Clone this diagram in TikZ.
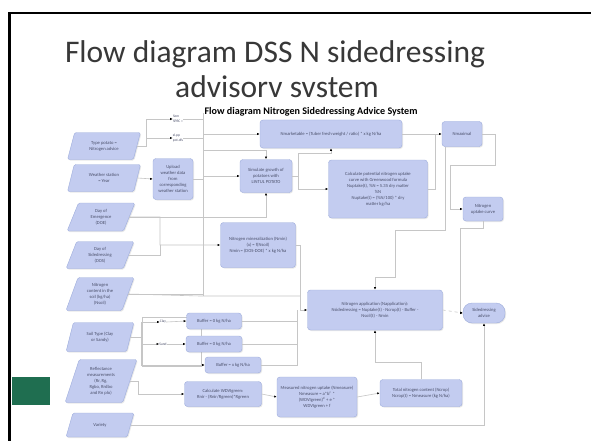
\documentclass[tikz,border=0pt]{standalone}
\usepackage{fontspec}
\setmainfont{Carlito}
\usetikzlibrary{shapes.geometric,arrows.meta,shadows}
\definecolor{boxfill}{HTML}{C3CCF0}
\definecolor{boxline}{HTML}{9EADDC}
\definecolor{boxtext}{HTML}{4A4F6A}
\definecolor{wirec}{HTML}{C6C6C6}
\definecolor{titlegray}{HTML}{383838}
\definecolor{slidegreen}{HTML}{1F6E50}
\newcommand\boxfont{\fontsize{4.6}{6}\selectfont}
\newcommand\notefont{\fontsize{3.6}{4.6}\selectfont}
\newcommand\bigtitlefont{\fontsize{31.5}{36}\selectfont}
\newcommand\subtitlefont{\fontsize{10.1}{11}\selectfont\bfseries}
\begin{document}
\begin{tikzpicture}[x=1pt,y=-1pt,
  every node/.style={inner sep=1pt, text=boxtext, font=\boxfont},
  shade/.style={drop shadow={opacity=0.18, shadow xshift=1pt, shadow yshift=-1pt}},
  data/.style={trapezium, trapezium left angle=72, trapezium right angle=108,
    trapezium stretches=true, draw=boxline, fill=boxfill, line width=0.4pt,
    rounded corners=1.5pt, align=center, minimum width=68pt, shade},
  proc/.style={rectangle, rounded corners=3pt, draw=boxline, fill=boxfill,
    line width=0.4pt, align=center, shade},
  term/.style={proc, rounded corners=9pt},
  wire/.style={draw=wirec, line width=0.6pt},
  arr/.style={wire, -{Latex[length=2.6pt,width=2.2pt,color=black]}},
  note/.style={font=\notefont, text=boxtext, inner sep=0pt, align=left}
]
\useasboundingbox (0,0) rectangle (591,441);
\fill[white] (0,0) rectangle (591,441);

% slide frame
\coordinate (fa) at (9.5,441);
\coordinate (fb) at (9.5,13);
\coordinate (fc) at (591,13);
\draw[black, line width=2.2pt] (fa) -- (fb) -- (fc);
\fill[slidegreen] (12,377) rectangle (50,405);

% titles
\node[font=\bigtitlefont, text=titlegray, anchor=base, inner sep=0pt] (t1) at (275,63) {Flow diagram DSS N sidedressing};
\node[font=\bigtitlefont, text=titlegray, anchor=base, inner sep=0pt] (t2) at (277,98) {advisorv svstem};
\node[font=\subtitlefont, text=black, anchor=base, inner sep=0pt] (t3) at (311,114) {Flow diagram Nitrogen Sidedressing Advice System};

% input data (parallelograms)
\node[data, minimum width=73pt, minimum height=27pt] (tp) at (104,146) {Type potato =\\Nitrogen advice};
\node[data, minimum width=73pt, minimum height=27pt] (ws) at (104,178) {Weather station\\= Year};
\node[data, minimum height=28pt] (doe) at (101,217) {Day of\\Emergence\\(DOE)};
\node[data, minimum height=27pt] (dos) at (100,255) {Day of\\Sidedressing\\(DOS)};
\node[data, minimum height=33pt] (nsoil) at (100,294) {Nitrogen\\content in the\\soil (kg/ha)\\(Nsoil)};
\node[data, minimum height=29pt] (soil) at (100,337) {Soil Type (Clay\\or Sandy)};
\node[data, minimum width=72pt, minimum height=43pt] (refl) at (101,381) {Reflectance\\measurements\\(Rr, Rg,\\Rgbo, Rrdbo\\and Rn plo)};
\node[data, minimum height=24pt] (var) at (100,425) {Variety};

% small notes near type potato
\node[note] (sm1) at (178,119) {Sem\\SPRC =};
\node[note] (sm2) at (178,138) {xl.pp\\pot.dfs};

% processes
\node[proc, minimum width=40pt, minimum height=41pt] (upl) at (173,179) {Upload\\weather data\\from\\corresponding\\weather station};
\node[proc, minimum width=142pt, minimum height=28pt] (mkt) at (331,134) {Nmarketable = (Tuber fresh weight / ratio) * x kg N/ha};
\node[proc, minimum width=52pt, minimum height=33pt] (sim) at (266,176) {Simulate growth of\\potatoes with\\LINTUL POTATO};
\node[proc, minimum width=99pt, minimum height=58pt] (calc) at (378,189) {Calculate potential nitrogen uptake\\curve with Greenwood formula\\Nuptake(t), \%N = 5.35 dry matter\\\%N\\Nuptake(t) = (\%N/100) * dry\\matter kg/ha};
\node[proc, minimum width=40pt, minimum height=25pt] (nmax) at (462,134) {Nmaximal};
\node[proc, minimum width=40pt, minimum height=24pt] (upt) at (483,209) {Nitrogen\\uptake curve};
\node[proc, minimum width=75pt, minimum height=45pt] (nmin) at (258,245) {Nitrogen mineralization (Nmin)\\(x) = f(Nsoil)\\Nmin = (DOS-DOE) * x kg N/ha};
\node[proc, minimum width=135pt, minimum height=40pt] (napp) at (375,310) {Nitrogen application (Napplication):\\Nsidedressing = Nuptake(t) - Ncrop(t) - Buffer -\\Nsoil(t) - Nmin};
\node[term, minimum width=42pt, minimum height=20pt] (adv) at (484,313) {Sidedressing\\advice};

% soil type branches
\node[note] (clay) at (163,322) {Clay};
\node[note] (sand) at (163,344) {Sand};
\draw[wirec, line width=0.4pt] (142,317) rectangle (201,366);
\node[proc, minimum width=55pt, minimum height=16pt] (b1) at (214,321) {Buffer = 0 kg N/ha};
\node[proc, minimum width=56pt, minimum height=16pt] (b2) at (214,344) {Buffer = 0 kg N/ha};
\node[proc, minimum width=56pt, minimum height=16pt] (b3) at (233,365) {Buffer = x kg N/ha};

% reflectance chain
\node[proc, minimum width=77pt, minimum height=25pt] (wdvi) at (223,394) {Calculate WDVIgreen:\\Rnir - (Rnir/Rgreen)*Rgreen};
\node[proc, minimum width=80pt, minimum height=40pt] (meas) at (317,397) {Measured nitrogen uptake (Nmeasure)\\Nmeasure = a*b\textsuperscript{c} *\\(WDVIgreen)\textsuperscript{d} + e *\\WDVIgreen + f};
\node[proc, minimum width=82pt, minimum height=27pt] (totn) at (421,393) {Total nitrogen content (Ncrop)\\Ncrop(t) = Nmeasure (kg N/ha)};

% bus coordinates
\coordinate (bt) at (203,113);
\coordinate (bb) at (203,296);
\coordinate (bx) at (297,310);
\coordinate (jn) at (435,134);

% connectors
\draw[wire] (bt) -- (bb);
\draw[arr] (tp.east) -- ++(9,0) |- (sm1.west);
\draw[arr] (tp.east) -- ++(9,0) |- (sm2.west);
\draw[wire] (sm1.east) -- (sm1.east -| bt);
\draw[wire] (sm2.east) -- (sm2.east -| bt);
\draw[arr] (ws.east) -- (upl.west);
\draw[wire] (upl.east) -- (upl.east -| bt);
\draw[arr] (mkt.west -| bt) -- (mkt.west);
\draw[arr] (203,150) -| (sim.north);
\draw[arr] (sim.west -| bt) -- (sim.west);
\draw[arr] (sim.east) -- ++(6,0) |- ([yshift=-5pt]mkt.south) -- (mkt.south);
\draw[arr] (sim.east) -- ++(6,0) |- (calc.west);
\draw[arr] (doe.east) -| (sim.south);
\draw[arr] (doe.east) -- (160,217) |- (nmin.west);
\draw[wire] (dos.east) -| (160,245);
\draw[wire] (nsoil.east) -- (nsoil.east -| bb);
\draw[arr] (mkt.east) -- (nmax.west);
\draw[wire] (calc.east) -| (jn);
\draw[arr] (nmax.east) -- (495,134) -- (495,165) -- (450,165) |- (upt.west);
\draw[arr] ([xshift=-17pt]nmax.south) -- (445,230) -- (395,230) -- (395,277) -| (napp.north);
\draw[arr] (upt.south) -- (483,228) -- (460,228) |- (adv.west);
\draw[arr, dashed] (napp.east) -- (adv.west);
\draw[arr] (var.east) -| (adv.south);
\draw[arr] (nmin.east) -- (300,245) |- (napp.west);
\draw[wire] (nsoil.east) -- (200,296) -- (243,296) -- (300,296);
\draw[arr] (soil.east) -- ++(11,0) |- (clay.west);
\draw[arr] (soil.east) -- ++(11,0) |- (sand.west);
\draw[arr] (clay.east) -- (b1.west);
\draw[arr] (sand.east) -- (b2.west);
\draw[arr] (soil.east) -- ++(11,0) |- (b3.west);
\draw[wire] (b1.east) -- (b1.east -| bx);
\draw[wire] (b2.east) -- (b2.east -| bx);
\draw[wire] (b3.east) -- (b3.east -| bx) -- (bx);
\draw[arr] (refl.east) -- ++(8,0) |- (wdvi.west);
\draw[arr] (wdvi.east) -- (meas.west);
\draw[arr] (meas.east) -- (totn.west);
\draw[arr] (totn.north) -- ++(0,-17) -| (napp.south);
\end{tikzpicture}
\end{document}
